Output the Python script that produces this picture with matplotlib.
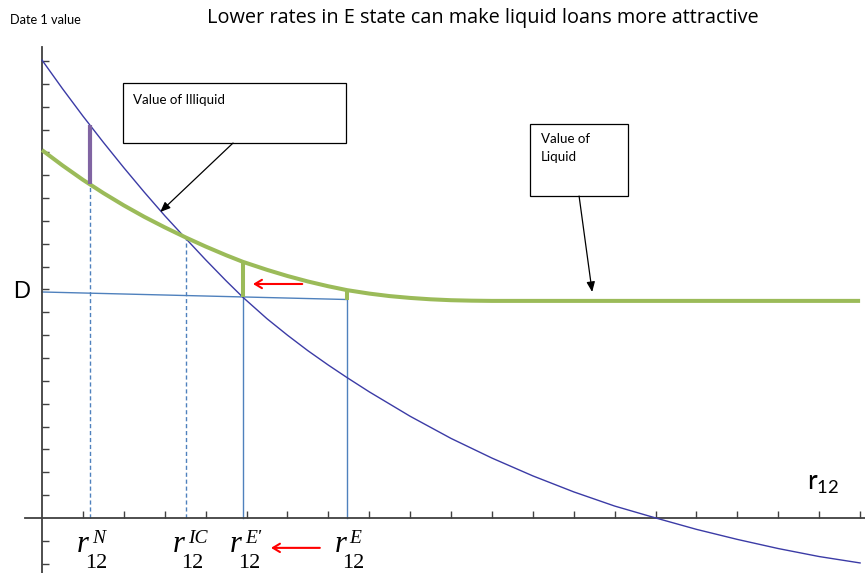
import numpy as np
import matplotlib
matplotlib.use("Agg")
import matplotlib.pyplot as plt
from matplotlib.patches import Rectangle

# values (x: r12, y: date 1 value)
illiquid_x = [0, 0.5, 1.0, 1.5, 2.0, 2.5, 3.0, 3.52, 4.0, 4.5, 4.91, 5.5, 6.0, 6.5, 7.0, 7.46,
              8.0, 9.0, 10.0, 11.0, 12.0, 13.0, 14.0, 15.0, 16.0, 17.0, 18.0, 19.0, 20.0]
illiquid_y = [20.04, 18.79, 17.59, 16.44, 15.33, 14.26, 13.23, 12.22, 11.3, 10.38, 9.66, 8.72, 8.0, 7.32, 6.69, 6.14,
              5.52, 4.45, 3.48, 2.62, 1.84, 1.14, 0.52, 0.0, -0.5, -0.94, -1.34, -1.69, -1.97]

liquid_x = [0, 0.5, 1.0, 1.5, 2.0, 2.5, 3.0, 3.52, 4.0, 4.5, 4.91, 5.5, 6.0, 6.5, 7.0, 7.46,
            8.0, 8.5, 9.0, 9.5, 10.0, 10.5, 11.0, 20.0]
liquid_y = [16.1, 15.43, 14.8, 14.22, 13.68, 13.18, 12.72, 12.27, 11.88, 11.5, 11.21, 10.86, 10.59, 10.35, 10.14, 9.97,
            9.82, 9.71, 9.63, 9.57, 9.53, 9.51, 9.5, 9.5]

# rates marked on the axis
r_N, r_IC, r_Ep, r_E = 1.17, 3.52, 4.91, 7.46
D_start, D_end = 9.89, 9.56          # blue "D" line, slightly sloping
illiq_at_N, liq_at_N = 17.2, 14.6
liq_at_IC = 12.25
liq_at_Ep, D_at_Ep = 11.21, 9.67
liq_at_E = 9.97

labels = [(r_N, "N"), (r_IC, "IC"), (r_Ep, "E'"), (r_E, "E")]

navy = "#3B3BA6"
green = "#9BBB59"
purple = "#8064A2"
lblue = "#4F81BD"
axc = "#404040"

fig = plt.figure(figsize=(8.65, 5.73), dpi=100)
ax = fig.add_axes([0, 0, 1, 1])
ax.set_xlim(-1.027, 20.12)
ax.set_ylim(-2.41, 22.67)

for s in ["top", "right"]:
    ax.spines[s].set_visible(False)
ax.spines["left"].set_position(("data", 0))
ax.spines["bottom"].set_position(("data", 0))
ax.spines["left"].set_bounds(-2.41, 20.6)
ax.spines["bottom"].set_bounds(-0.42, 20.12)
for s in ["left", "bottom"]:
    ax.spines[s].set_color(axc)
    ax.spines[s].set_linewidth(1.3)

ax.set_xticks([i for i in range(1, 21)])
ax.set_yticks([i for i in range(-2, 21) if i != 0])
ax.tick_params(direction="in", length=5, width=1.0, color=axc,
               labelbottom=False, labelleft=False)

# dashed / solid guide lines
ax.plot([r_N, r_N], [0, liq_at_N], color=lblue, lw=1.0, ls=(0, (3, 2)))
ax.plot([r_IC, r_IC], [0, liq_at_IC], color=lblue, lw=1.0, ls=(0, (3, 2)))
ax.plot([0, r_E], [D_start, D_end], color=lblue, lw=1.0)
ax.plot([r_Ep, r_Ep], [0, D_at_Ep], color=lblue, lw=1.0)
ax.plot([r_E, r_E], [0, D_end], color=lblue, lw=1.0)

# curves
ax.plot(illiquid_x, illiquid_y, color=navy, lw=1.0, zorder=3)
ax.plot(liquid_x, liquid_y, color=green, lw=2.9, zorder=3, solid_capstyle="butt", solid_joinstyle="round")

# gap bars
ax.plot([r_N, r_N], [liq_at_N, illiq_at_N], color=purple, lw=3.0, zorder=4, solid_capstyle="butt")
ax.plot([r_Ep, r_Ep], [D_at_Ep, liq_at_Ep], color=green, lw=2.9, zorder=4, solid_capstyle="butt")
ax.plot([r_E, r_E], [D_end, liq_at_E], color=green, lw=2.9, zorder=4, solid_capstyle="butt")

# red arrows
ax.annotate("", xy=(5.09, 10.24), xytext=(6.43, 10.24),
            arrowprops=dict(arrowstyle="->,head_length=0.5,head_width=0.3", color="red", lw=1.5))
ax.annotate("", xy=(5.53, -1.31), xytext=(6.86, -1.31),
            arrowprops=dict(arrowstyle="->,head_length=0.5,head_width=0.3", color="red", lw=1.5),
            annotation_clip=False)

# text boxes with arrows
ax.add_patch(Rectangle((1.98, 16.41), 7.43 - 1.98, 19.04 - 16.41, fill=False, ec="black", lw=0.9, zorder=5))
ax.text(2.22, 18.3, "Value of Illiquid", fontsize=9.6, family="Lato", va="center", ha="left")
ax.annotate("", xy=(2.89, 13.39), xytext=(4.67, 16.41),
            arrowprops=dict(arrowstyle="-|>,head_length=0.6,head_width=0.25", color="black", lw=0.9,
                            shrinkA=0, shrinkB=0))

ax.add_patch(Rectangle((11.93, 14.09), 14.33 - 11.93, 17.24 - 14.09, fill=False, ec="black", lw=0.9, zorder=5))
ax.text(12.2, 16.6, "Value of", fontsize=9.6, family="Lato", va="center", ha="left")
ax.text(12.2, 15.82, "Liquid", fontsize=9.6, family="Lato", va="center", ha="left")
ax.annotate("", xy=(13.45, 9.89), xytext=(13.13, 14.09),
            arrowprops=dict(arrowstyle="-|>,head_length=0.6,head_width=0.25", color="black", lw=0.9,
                            shrinkA=0, shrinkB=0))

# axis texts
ax.text(-0.7, D_start, "D", fontsize=17, family="Liberation Sans", va="center", ha="left")
fig.text(10 / 865, 1 - 20 / 573, "Date 1 value", fontsize=9.2, family="Lato", va="center", ha="left")
fig.text(483 / 865, 1 - 18 / 573, "Lower rates in E state can make liquid loans more attractive",
         fontsize=14.3, family="Open Sans", va="center", ha="center")
ax.text(18.7, 1.25, "r$_{\\mathregular{12}}$", fontsize=19, family="Lato", va="baseline", ha="left")

# r12 labels under the axis
px = 72 / 100
for xv, sup in labels:
    ax.annotate("r", xy=(xv, 0), xytext=(-1 * px, -34 * px), textcoords="offset points",
                fontsize=22, family="Liberation Serif", style="italic", ha="right", va="baseline",
                annotation_clip=False)
    ax.annotate("12", xy=(xv, 0), xytext=(-5 * px, -50 * px), textcoords="offset points",
                fontsize=16, family="Liberation Serif", ha="left", va="baseline",
                annotation_clip=False)
    ax.annotate(sup, xy=(xv, 0), xytext=(2 * px, -25 * px), textcoords="offset points",
                fontsize=14, family="Liberation Serif", style="italic", ha="left", va="baseline",
                annotation_clip=False)

fig.savefig("out.png", dpi=100)
